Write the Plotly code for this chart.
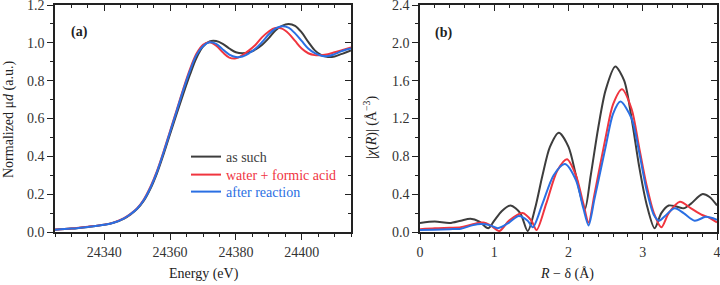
import plotly.graph_objects as go

# ---------------- Panel (a): XANES ----------------
E_common = [24325, 24330, 24335, 24340, 24343, 24346, 24348, 24350, 24352, 24354,
            24356, 24358, 24360, 24362, 24364, 24366, 24368, 24370, 24372, 24374,
            24376, 24378, 24380, 24382, 24384, 24386, 24388, 24390, 24392, 24394,
            24396, 24398, 24400, 24402, 24404, 24406, 24408, 24410, 24412, 24415]

mu_as_such = [0.012, 0.018, 0.027, 0.038, 0.050, 0.071, 0.093, 0.122, 0.165, 0.228,
              0.310, 0.410, 0.518, 0.625, 0.730, 0.830, 0.920, 0.980, 1.008, 1.010,
              0.995, 0.970, 0.950, 0.945, 0.950, 0.965, 0.990, 1.025, 1.065, 1.090,
              1.100, 1.090, 1.055, 1.005, 0.960, 0.935, 0.925, 0.928, 0.940, 0.960]

mu_water = [0.013, 0.019, 0.028, 0.039, 0.051, 0.073, 0.096, 0.126, 0.172, 0.238,
            0.322, 0.424, 0.534, 0.645, 0.756, 0.858, 0.942, 0.990, 1.003, 0.985,
            0.950, 0.922, 0.918, 0.935, 0.960, 0.990, 1.030, 1.060, 1.078, 1.075,
            1.050, 1.010, 0.970, 0.945, 0.935, 0.935, 0.940, 0.950, 0.960, 0.975]

mu_after = [0.012, 0.018, 0.027, 0.038, 0.050, 0.072, 0.095, 0.124, 0.169, 0.234,
            0.318, 0.420, 0.530, 0.640, 0.750, 0.850, 0.935, 0.982, 1.003, 0.995,
            0.965, 0.938, 0.925, 0.928, 0.945, 0.970, 1.005, 1.045, 1.075, 1.088,
            1.080, 1.050, 1.010, 0.970, 0.945, 0.932, 0.930, 0.940, 0.955, 0.970]

# ---------------- Panel (b): FT-EXAFS ----------------
R_as_such = [0.0, 0.2, 0.4, 0.55, 0.68, 0.8, 0.92, 1.0, 1.1, 1.22, 1.35, 1.45,
             1.55, 1.65, 1.75, 1.87, 2.0, 2.1, 2.22, 2.3, 2.4, 2.5, 2.63, 2.75,
             2.85, 2.95, 3.05, 3.16, 3.25, 3.35, 3.45, 3.55, 3.65, 3.8, 3.9, 4.0]
chi_as_such = [0.095, 0.11, 0.095, 0.12, 0.14, 0.11, 0.04, 0.12, 0.22, 0.28, 0.20, 0.01,
               0.25, 0.60, 0.90, 1.05, 0.90, 0.60, 0.24, 0.60, 1.10, 1.50, 1.75, 1.60,
               1.20, 0.70, 0.30, 0.04, 0.20, 0.28, 0.27, 0.25, 0.30, 0.40, 0.37, 0.28]

R_water = [0.0, 0.2, 0.4, 0.55, 0.7, 0.85, 0.95, 1.07, 1.2, 1.38, 1.5, 1.57,
           1.7, 1.85, 1.98, 2.1, 2.2, 2.27, 2.35, 2.5, 2.6, 2.72, 2.85, 2.95,
           3.05, 3.15, 3.25, 3.35, 3.5, 3.65, 3.8, 3.9, 4.0]
chi_water = [0.03, 0.04, 0.045, 0.05, 0.08, 0.10, 0.07, 0.01, 0.12, 0.20, 0.12, 0.02,
             0.30, 0.65, 0.77, 0.60, 0.30, 0.10, 0.40, 1.00, 1.35, 1.51, 1.30, 0.90,
             0.50, 0.20, 0.05, 0.20, 0.32, 0.25, 0.18, 0.15, 0.10]

R_after = [0.0, 0.2, 0.4, 0.55, 0.7, 0.82, 0.95, 1.05, 1.2, 1.33, 1.45, 1.52,
           1.65, 1.8, 1.95, 2.1, 2.2, 2.27, 2.35, 2.5, 2.6, 2.7, 2.85, 2.95,
           3.05, 3.15, 3.22, 3.3, 3.43, 3.55, 3.7, 3.85, 4.0]
chi_after = [0.02, 0.025, 0.03, 0.035, 0.07, 0.085, 0.07, 0.04, 0.10, 0.17, 0.12, 0.05,
             0.30, 0.60, 0.72, 0.55, 0.25, 0.07, 0.35, 0.90, 1.25, 1.38, 1.20, 0.85,
             0.45, 0.18, 0.12, 0.17, 0.25, 0.20, 0.12, 0.16, 0.13]

xa_ticks = [24340, 24360, 24380, 24400]

labels = ["as such", "water + formic acid", "after reaction"]
colors = ["#3d3d3d", "#f0353f", "#2a6fe3"]
legend_ids = ["legend", "legend2", "legend3"]

FONT = "'Liberation Serif', 'Times New Roman', serif"

EPS = 1e-6
xa_range = [24325, 24415]
ya_range = [0, 1.2 + EPS]
xb_range = [0, 4 + EPS]
yb_range = [0, 2.4 + EPS]

fig = go.Figure()

series_a = [mu_as_such, mu_water, mu_after]
for lab, col, ys, lg in zip(labels, colors, series_a, legend_ids):
    fig.add_trace(go.Scatter(
        x=E_common, y=ys, mode="lines", xaxis="x", yaxis="y",
        line=dict(color=col, width=2, shape="spline", smoothing=1.0),
        name=f'<span style="color:{col}">{lab}</span>', showlegend=True, legend=lg))

series_b = [(R_as_such, chi_as_such), (R_water, chi_water), (R_after, chi_after)]
for lab, col, (xs, ys) in zip(labels, colors, series_b):
    fig.add_trace(go.Scatter(
        x=xs, y=ys, mode="lines", xaxis="x2", yaxis="y2",
        line=dict(color=col, width=2, shape="spline", smoothing=0.8),
        name=lab, showlegend=False))

# invisible traces so the mirrored (top/right, inward-tick) axes get drawn
for xa, ya, xr, yr in [("x3", "y3", xa_range, ya_range), ("x4", "y4", xb_range, yb_range)]:
    fig.add_trace(go.Scatter(x=xr, y=yr, xaxis=xa, yaxis=ya, mode="markers",
                             marker=dict(size=1, opacity=0), showlegend=False,
                             hoverinfo="skip"))

W, H = 720, 285
mt, mb = 5, 53
dom_a = [55 / W, 351 / W]
dom_b = [420 / W, 717 / W]

def tickfont():
    return dict(family=FONT, size=14, color="#333333")

def minor(dt, side, t0=0):
    return dict(dtick=dt, tick0=t0, ticks=side, ticklen=3, tickcolor="#222222", tickwidth=1.2)

def base_axis(**kw):
    d = dict(showline=True, linewidth=1.5, linecolor="#222222", showgrid=False,
             zeroline=False, tickcolor="#222222", tickwidth=1.3, tickfont=tickfont(),
             automargin=False, ticklen=6, ticklabeloverflow="allow")
    d.update(kw)
    return d

ph = H - mt - mb
def py(pix):
    return (H - mb - pix) / ph

def legend_at(ypix):
    return dict(x=186 / W, y=py(ypix), xanchor="left", yanchor="middle",
                bgcolor="rgba(0,0,0,0)", borderwidth=0, itemwidth=30,
                font=dict(family=FONT, size=14))

layout = dict(
    template="none",
    width=W, height=H,
    margin=dict(l=0, r=0, t=mt, b=mb, pad=0),
    paper_bgcolor="white", plot_bgcolor="white",
    font=dict(family=FONT, size=14, color="#333333"),
    xaxis=base_axis(domain=dom_a, anchor="y", range=xa_range, ticks="outside",
                    tickmode="array", tickvals=xa_ticks, ticktext=[str(v) for v in xa_ticks],
                    minor=minor(5, "outside", 24325)),
    yaxis=base_axis(domain=[0, 1], anchor="x", range=ya_range, ticks="outside",
                    dtick=0.2, tick0=0, tickformat=".1f", minor=minor(0.1, "outside")),
    xaxis3=base_axis(overlaying="x", anchor="y3", side="top", range=xa_range,
                     ticks="inside", tickmode="array", tickvals=xa_ticks,
                     showticklabels=False, minor=minor(5, "inside", 24325)),
    yaxis3=base_axis(overlaying="y", anchor="x3", side="right", range=ya_range,
                     ticks="inside", dtick=0.2, tick0=0, showticklabels=False,
                     minor=minor(0.1, "inside")),
    xaxis2=base_axis(domain=dom_b, anchor="y2", range=xb_range, ticks="outside",
                     dtick=1, tick0=0, minor=minor(0.2, "outside")),
    yaxis2=base_axis(domain=[0, 1], anchor="x2", range=yb_range, ticks="outside",
                     dtick=0.4, tick0=0, tickformat=".1f", minor=minor(0.2, "outside")),
    xaxis4=base_axis(overlaying="x2", anchor="y4", side="top", range=xb_range,
                     ticks="inside", dtick=1, tick0=0, showticklabels=False,
                     minor=minor(0.2, "inside")),
    yaxis4=base_axis(overlaying="y2", anchor="x4", side="right", range=yb_range,
                     ticks="inside", dtick=0.4, tick0=0, showticklabels=False,
                     minor=minor(0.2, "inside")),
    legend=legend_at(157),
    legend2=legend_at(175),
    legend3=legend_at(192),
    showlegend=True,
)
fig.update_layout(**layout)

annos = [
    dict(text="<b>(a)</b>", x=69 / W, y=py(32), xanchor="left", yanchor="middle"),
    dict(text="<b>(b)</b>", x=433 / W, y=py(33), xanchor="left", yanchor="middle"),
    dict(text="Energy (eV)", x=204 / W, y=py(274), xanchor="center", yanchor="middle"),
    dict(text="<i>R</i> − δ (Å)", x=567 / W, y=py(274), xanchor="center", yanchor="middle"),
    dict(text="Normalized μ<i>d</i> (a.u.)", x=9 / W, y=py(120), xanchor="center",
         yanchor="middle", textangle=-90),
    dict(text="|<i>χ</i>(<i>R</i>)| (Å<sup>−3</sup>)", x=371 / W, y=py(127), xanchor="center",
         yanchor="middle", textangle=-90),
]
for a in annos:
    a.update(xref="paper", yref="paper", showarrow=False,
             font=dict(family=FONT, size=14, color="#222222"))
    fig.add_annotation(**a)

fig.write_html("out.html", config={"displayModeBar": False},
               post_script="document.body.style.margin='0';")
